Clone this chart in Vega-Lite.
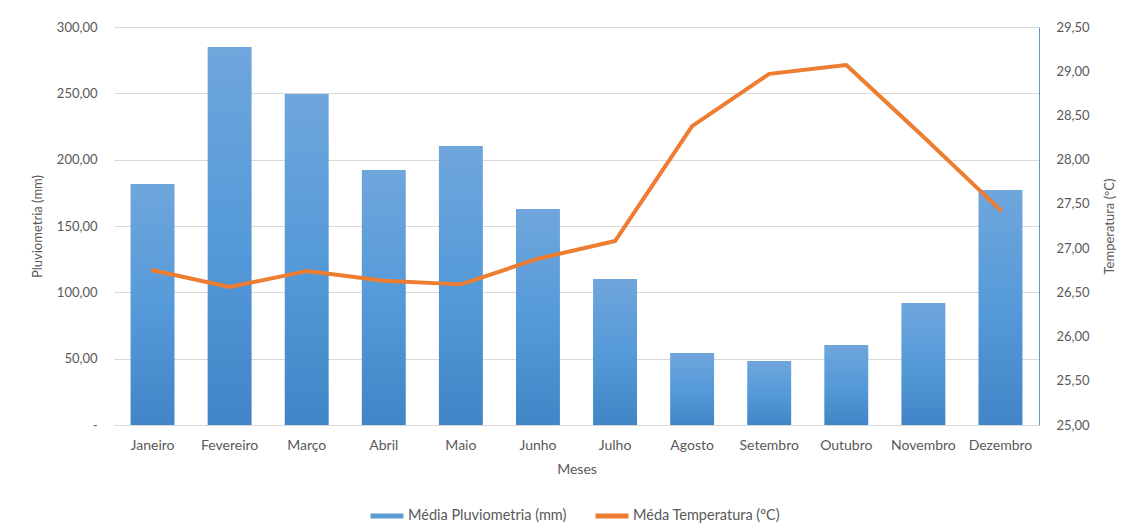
{
  "$schema": "https://vega.github.io/schema/vega-lite/v6.json",
  "width": 925,
  "height": 398,
  "autosize": "none",
  "padding": {"left": 114, "top": 27, "right": 93, "bottom": 107},
  "background": "white",
  "config": {
    "font": "Lato",
    "view": {"stroke": null},
    "axis": {"labelFont": "Lato", "titleFont": "Lato", "labelColor": "#595959", "titleColor": "#595959", "labelFontSize": 13, "titleFontSize": 13, "titleFontWeight": "normal", "ticks": false}
  },
  "data": {
    "values": [
      {"mes": "Janeiro", "pluv": 181.7, "temp": 26.75},
      {"mes": "Fevereiro", "pluv": 284.9, "temp": 26.56},
      {"mes": "Março", "pluv": 249.5, "temp": 26.74},
      {"mes": "Abril", "pluv": 192.2, "temp": 26.63},
      {"mes": "Maio", "pluv": 210.3, "temp": 26.59},
      {"mes": "Junho", "pluv": 162.8, "temp": 26.88},
      {"mes": "Julho", "pluv": 110.0, "temp": 27.08},
      {"mes": "Agosto", "pluv": 54.3, "temp": 28.38},
      {"mes": "Setembro", "pluv": 48.2, "temp": 28.97},
      {"mes": "Outubro", "pluv": 60.3, "temp": 29.07},
      {"mes": "Novembro", "pluv": 92.0, "temp": 28.26},
      {"mes": "Dezembro", "pluv": 177.1, "temp": 27.43}
    ]
  },
  "encoding": {
    "x": {
      "field": "mes",
      "type": "nominal",
      "sort": null,
      "scale": {"paddingInner": 0.43, "paddingOuter": 0.215},
      "axis": {"title": "Meses", "labelAngle": 0, "labelFontSize": 14, "titleFontSize": 14, "labelPadding": 13, "titlePadding": 10, "domain": true, "domainColor": "#d9d9d9", "grid": false}
    }
  },
  "layer": [
    {
      "mark": {
        "type": "bar",
        "color": {
          "gradient": "linear",
          "x1": 0, "y1": 0, "x2": 0, "y2": 1,
          "stops": [
            {"offset": 0, "color": "#6fa6dc"},
            {"offset": 0.5, "color": "#559ad9"},
            {"offset": 1, "color": "#4185c6"}
          ]
        }
      },
      "encoding": {
        "y": {
          "field": "pluv",
          "type": "quantitative",
          "scale": {"domain": [0, 300], "nice": false},
          "axis": {
            "title": "Pluviometria (mm)",
            "values": [0, 50, 100, 150, 200, 250, 300],
            "labelExpr": "datum.value == 0 ? '-\u00a0\u00a0\u00a0\u00a0' : replace(format(datum.value, '.2f'), '.', ',')",
            "labelPadding": 17,
            "titlePadding": 12,
            "domain": false,
            "grid": true,
            "gridColor": "#d9d9d9",
            "gridWidth": 1
          }
        }
      }
    },
    {
      "mark": {"type": "line", "strokeWidth": 4, "strokeJoin": "round", "strokeCap": "round"},
      "encoding": {
        "y": {
          "field": "temp",
          "type": "quantitative",
          "scale": {"domain": [25, 29.5], "nice": false, "zero": false},
          "axis": {
            "orient": "right",
            "title": "Temperatura (ºC)",
            "titleAngle": 270,
            "values": [25, 25.5, 26, 26.5, 27, 27.5, 28, 28.5, 29, 29.5],
            "labelExpr": "replace(format(datum.value, '.2f'), '.', ',')",
            "labelPadding": 17,
            "titlePadding": 27,
            "domain": true,
            "domainColor": "#5b9bd5",
            "grid": false
          }
        },
        "color": {
          "datum": "Méda Temperatura (ºC)",
          "type": "nominal",
          "scale": {"domain": ["Média Pluviometria (mm)", "Méda Temperatura (ºC)"], "range": ["#5b9bd5", "#ed7d31"]},
          "legend": {
            "title": null,
            "orient": "none",
            "direction": "horizontal",
            "legendX": 254,
            "legendY": 470,
            "symbolType": "stroke",
            "symbolSize": 1089,
            "symbolStrokeWidth": 5,
            "labelFont": "Lato",
            "labelFontSize": 14.5,
            "labelColor": "#595959",
            "labelOffset": 2,
            "columnPadding": 18
          }
        }
      }
    }
  ],
  "resolve": {"scale": {"y": "independent"}}
}
